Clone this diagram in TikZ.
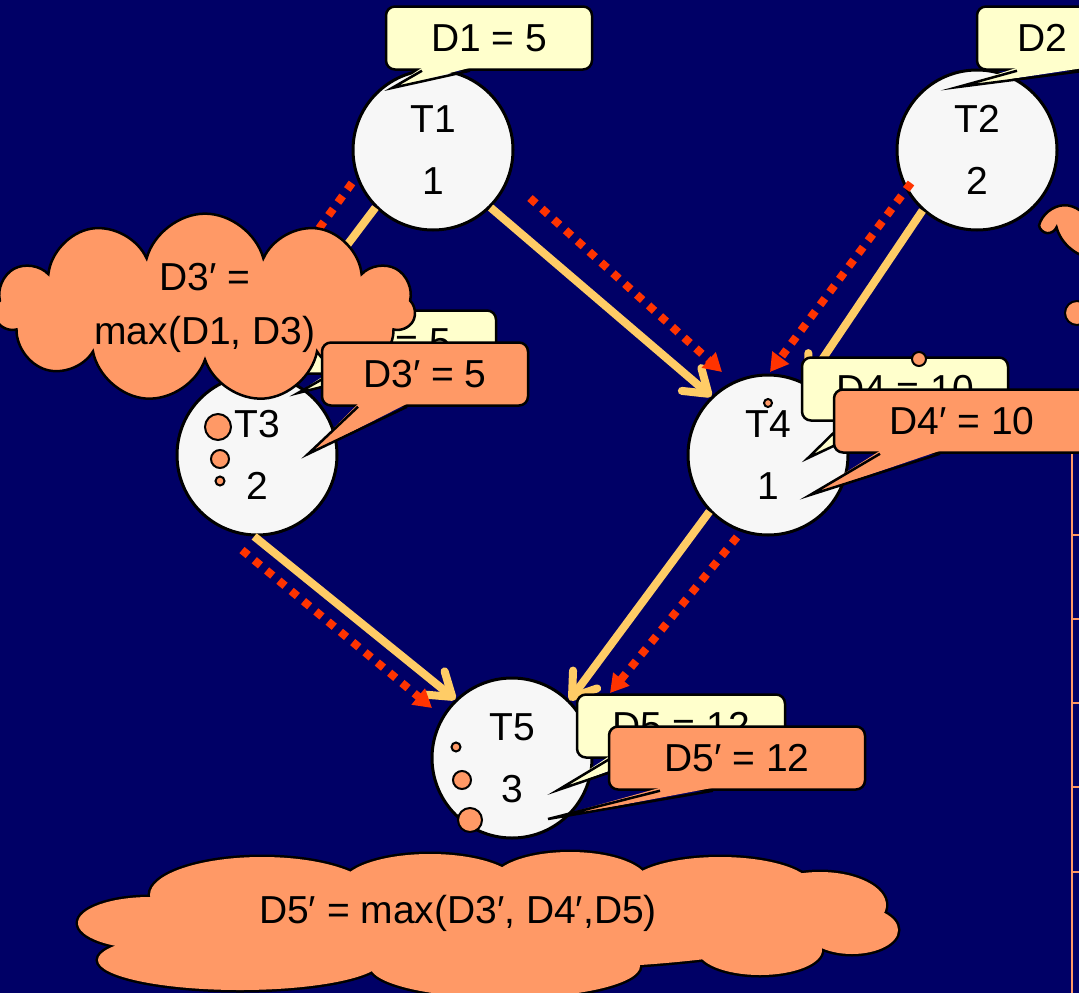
\documentclass[tikz,border=0pt]{standalone}
\usepackage{fontspec}
\setmainfont{Liberation Sans}
\usetikzlibrary{arrows.meta,shapes.symbols}
\definecolor{slidebg}{RGB}{0,0,102}
\definecolor{taskfill}{RGB}{247,247,247}
\definecolor{notefill}{RGB}{255,255,204}
\definecolor{newfill}{RGB}{255,153,102}
\definecolor{edgecol}{RGB}{255,204,102}
\definecolor{critcol}{RGB}{255,51,0}
\tikzstyle{task}=[draw, circle, fill=taskfill, line width=3pt, minimum size=160pt,
	inner sep=0pt, align=center, font=\fontsize{39}{62}\selectfont]
\tikzstyle{note}=[draw, fill=notefill, rounded corners=9pt, line width=2.5pt,
	minimum width=206pt, minimum height=63pt, inner sep=0pt, font=\fontsize{39}{46}\selectfont]
\tikzstyle{newnote}=[note, fill=newfill]
\tikzstyle{tail}=[line width=2.5pt, line join=miter, miter limit=20]
\tikzstyle{dep}=[draw=edgecol, line width=8pt, -{Straight Barb[length=22pt,width=30pt,round]}]
\tikzstyle{crit}=[draw=critcol, line width=8pt, dash pattern=on 8pt off 8pt,
	-{Triangle[length=18pt,width=20pt]}]
\tikzstyle{thought}=[draw, cloud, cloud puffs=11, cloud ignores aspect, fill=newfill,
	line width=2.5pt, align=center, inner sep=0pt, font=\fontsize{39}{54}\selectfont]
\tikzstyle{bubble}=[draw, circle, fill=newfill, line width=2pt, inner sep=0pt]
% tail of a callout: node, fill, left and right end of the base, tip
\newcommand{\notetail}[5]{%
	\fill[#2] ([xshift=#3pt,yshift=3pt]#1.south) -- #5 -- ([xshift=#4pt,yshift=3pt]#1.south) -- cycle;
	\draw[tail] ([xshift=#3pt]#1.south) -- #5 -- ([xshift=#4pt]#1.south);}
% lobes of the wide cloud at the bottom: x, y, x radius, y radius
\newcommand{\lobes}{150/923/72/26, 262/895/112/38, 430/885/88/31, 570/882/78/30,
	720/887/92/30, 820/905/66/33, 852/930/46/24, 760/950/62/25, 505/966/135/32,
	240/960/142/30, 489/925/330/45}

\begin{document}
\begin{tikzpicture}[x=1pt,y=-1pt]
	\useasboundingbox (0,0) rectangle (1079,993);
	\fill[slidebg] (0,0) rectangle (1079,993);
	\clip (0,0) rectangle (1079,993);

	% table edge on the right
	\draw[newfill, line width=2pt] (1072,452) -- (1072,993);
	\foreach \y in {535,619,703,787,872}
		\draw[newfill, line width=2pt] (1072,\y) -- (1079,\y);

	% tasks
	\node[task] (t1) at (433,150) {T1\\1};
	\node[task] (t2) at (977,150) {T2\\2};
	\node[task] (t3) at (257,455) {T3\\2};
	\node[task] (t4) at (768,455) {T4\\1};
	\node[task] (t5) at (512,758) {T5\\3};

	% dependencies
	\draw[dep] (t1.-135) -- (t3.95);
	\draw[dep] (t1.-45) -- (t4.134);
	\draw[dep] (t2.-132) -- (t4.62);
	\draw[dep] (t3.-92) -- (t5.134);
	\draw[dep] (t4.-136) -- (t5.45);

	% critical path
	\draw[crit] ([shift={(-81,33)}]t1.center) -- ([shift={(-31,-98)}]t3.center);
	\draw[crit] ([shift={(97,48)}]t1.center) -- ([shift={(-46,-83)}]t4.center);
	\draw[crit] ([shift={(-66,33)}]t2.center) -- ([shift={(2,-83)}]t4.center);
	\draw[crit] ([shift={(-15,95)}]t3.center) -- ([shift={(-80,-50)}]t5.center);
	\draw[crit] ([shift={(-31,82)}]t4.center) -- ([shift={(98,-65)}]t5.center);

	% deadlines
	\node[note] (d1) at (489,38) {D1 = 5};
	\notetail{d1}{notefill}{-67}{-19}{(392,88)}
	\node[note, text width=126pt, align=left] (d2) at (1080,38) {D2};
	\notetail{d2}{notefill}{-63}{5}{(958,87)}
	\node[note] (d3) at (393,342) {D3 = 5};
	\notetail{d3}{notefill}{-63}{-23}{(298,393)}
	\node[note] (d4) at (905,389) {D4 = 10};
	\notetail{d4}{notefill}{-60}{-20}{(808,458)}
	\node[note, minimum width=208pt] (d5) at (681,726) {D5 = 12};
	\notetail{d5}{notefill}{-71}{-31}{(558,790)}

	% thoughts
	\node[thought, minimum width=420pt, minimum height=150pt] (c3) at (205,308) {D3′ =\\max(D1, D3)};
	\node[thought, minimum width=420pt, minimum height=100pt] (c4) at (1255,226) {};
	\foreach \cx/\cy/\rx/\ry in \lobes
		\draw[line width=5pt] (\cx,\cy) ellipse [x radius=\rx, y radius=\ry];
	\foreach \cx/\cy/\rx/\ry in \lobes
		\fill[newfill] (\cx,\cy) ellipse [x radius=\rx, y radius=\ry];
	\node[font=\fontsize{39}{46}\selectfont] (c5) at (458,913) {D5′ = max(D3′, D4′,D5)};

	% new deadlines
	\node[newnote] (n3) at (425,374) {D3′ = 5};
	\notetail{n3}{newfill}{-67}{-18}{(308,454)}
	\node[newnote, minimum width=256pt] (n4) at (962,421) {D4′ = 10};
	\notetail{n4}{newfill}{-82}{-22}{(810,495)}
	\node[newnote, minimum width=256pt] (n5) at (737,758) {D5′ = 12};
	\notetail{n5}{newfill}{-77}{-24}{(548,819)}

	% bubbles of the thoughts
	\node[bubble, minimum size=26pt] (b31) at (218,427) {};
	\node[bubble, minimum size=18pt] (b32) at (220,459) {};
	\node[bubble, minimum size=9pt] (b33) at (220,481) {};
	\node[bubble, minimum size=24pt] (b41) at (1077,313) {};
	\node[bubble, minimum size=14pt] (b42) at (919,359) {};
	\node[bubble, minimum size=8pt] (b43) at (768,403) {};
	\node[bubble, minimum size=24pt] (b51) at (470,820) {};
	\node[bubble, minimum size=18pt] (b52) at (462,780) {};
	\node[bubble, minimum size=9pt] (b53) at (456,747) {};
\end{tikzpicture}
\end{document}
